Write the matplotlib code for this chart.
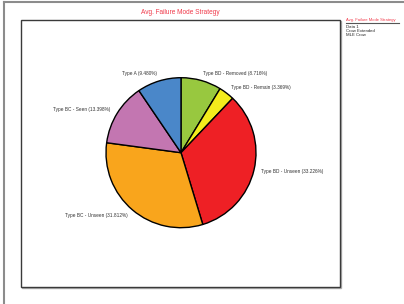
import matplotlib.pyplot as plt
from matplotlib.patches import Rectangle
from matplotlib.lines import Line2D

plt.rcParams["font.family"] = ["Liberation Sans", "DejaVu Sans"]

# failure mode shares (%), clockwise from 12 o'clock
modes = ["Type BD - Removed", "Type BD - Remain", "Type BD - Unseen",
         "Type BC - Unseen", "Type BC - Seen", "Type A"]
shares = [8.716, 3.369, 33.226, 31.812, 13.398, 9.480]
colors = ["#98c83f", "#f3ec1c", "#ee2025", "#f9a51c", "#c376b1", "#4a87c9"]

legend_title = "Avg. Failure Mode Strategy"
legend_items = ["Data 1", "Crow Extended", "MLE Crow"]

W, H = 404, 304
fig = plt.figure(figsize=(W / 100, H / 100), dpi=100)
fig.patch.set_facecolor("white")

# outer frame (top + left edges only visible)
fig.add_artist(Line2D([3.5 / W, 3.5 / W], [0, 1 - 2 / H], color="#8c8c8c", lw=1.5))
fig.add_artist(Line2D([3.5 / W, 1.01], [1 - 2 / H, 1 - 2 / H], color="#8c8c8c", lw=1.5))

# plot box with a small shadow
bx0, by0, bx1, by1 = 20.5, 19.5, 339.5, 286.5
fig.add_artist(Rectangle(((bx0 + 1.5) / W, 1 - (by1 + 1.5) / H),
                         (bx1 - bx0) / W, (by1 - by0) / H,
                         transform=fig.transFigure, facecolor="none",
                         edgecolor="#b0b0b0", lw=1))
fig.add_artist(Rectangle((bx0 / W, 1 - by1 / H), (bx1 - bx0) / W, (by1 - by0) / H,
                         transform=fig.transFigure, facecolor="white",
                         edgecolor="#3a3a3a", lw=1))

fig.text(180.5 / W, 1 - 12 / H, "Avg. Failure Mode Strategy", color="#f03a4a",
         fontsize=4.7, ha="center", va="center")

# pie
cx, cy, r = 181, 152.7, 75
ax = fig.add_axes([(cx - r) / W, 1 - (cy + r) / H, 2 * r / W, 2 * r / H])
labels = [f"{m} ({v:.3f}%)" for m, v in zip(modes, shares)]
wedges, texts = ax.pie(shares, labels=labels, colors=colors, startangle=90,
                       counterclock=False, labeldistance=1.1,
                       wedgeprops=dict(edgecolor="black", linewidth=1),
                       textprops=dict(fontsize=3.4, color="#333333"))
ax.set_xlim(-1, 1)
ax.set_ylim(-1, 1)
ax.set_zorder(3)

# legend panel on the right
fig.text(346.5 / W, 1 - 19.5 / H, legend_title, color="#f03a4a", fontsize=3.0,
         ha="left", va="center")
fig.add_artist(Line2D([346 / W, 399 / W], [1 - 22.5 / H, 1 - 22.5 / H],
                      color="#555555", lw=0.8))
for i, name in enumerate(legend_items):
    fig.text(346.5 / W, 1 - (27 + i * 3.8) / H, name, color="#222222", fontsize=3.1,
             ha="left", va="center")

fig.savefig("out.png", dpi=100)
